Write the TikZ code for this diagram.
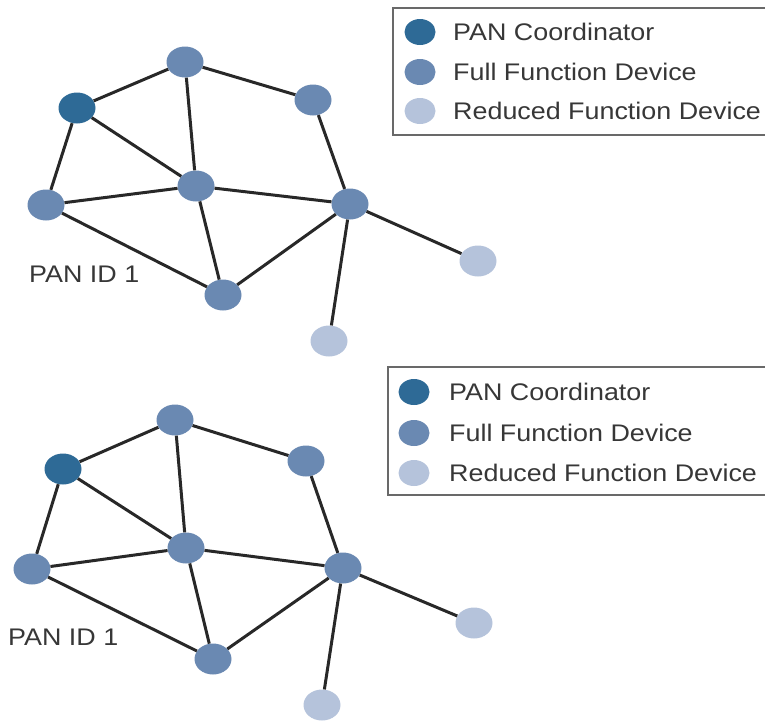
\documentclass[tikz,border=0pt]{standalone}
\usepackage{fontspec}
\setmainfont{Liberation Sans}
\newfontfamily\lblfont[FakeStretch=1.12]{Liberation Sans}
\usetikzlibrary{shapes.geometric}

\definecolor{coordblue}{RGB}{46,106,150}
\definecolor{ffdblue}{RGB}{106,137,178}
\definecolor{rfdblue}{RGB}{181,195,219}
\definecolor{linkgray}{RGB}{40,40,40}
\definecolor{framegray}{RGB}{105,105,105}
\definecolor{textgray}{RGB}{55,55,55}

\tikzset{
  dev/.style={ellipse, draw=none, minimum width=37pt, minimum height=31pt, inner sep=0pt},
  coordnode/.style={dev, fill=coordblue},
  ffd/.style={dev, fill=ffdblue},
  rfd/.style={dev, fill=rfdblue},
  keydot/.style={ellipse, draw=none, minimum width=31pt, minimum height=26pt, inner sep=0pt},
  link/.style={draw=linkgray, line width=3pt},
  keyframe/.style={draw=framegray, line width=1.6pt},
  lbl/.style={font=\lblfont\fontsize{24pt}{28pt}\selectfont, text=textgray, inner sep=0pt}
}

\begin{document}
\begin{tikzpicture}[x=1pt, y=-1pt]
  \useasboundingbox (0,0) rectangle (765,720);
  \clip (0,0) rectangle (765,720);

  % ---------- upper network ----------
  \node[ffd]       (aT) at (185,62)  {};
  \node[coordnode] (aC) at (77,108)  {};
  \node[ffd]       (aR) at (313,100) {};
  \node[ffd]       (aM) at (196,186) {};
  \node[ffd]       (aL) at (46,205)  {};
  \node[ffd]       (aH) at (350,204) {};
  \node[ffd]       (aB) at (223,295) {};
  \node[rfd]       (aD) at (329,341) {};
  \node[rfd]       (aE) at (478,261) {};

  \draw[link] (aC) -- (aT);
  \draw[link] (aT) -- (aR);
  \draw[link] (aC) -- (aL);
  \draw[link] (aC) -- (aM);
  \draw[link] (aT) -- (aM);
  \draw[link] (aL) -- (aM);
  \draw[link] (aM) -- (aH);
  \draw[link] (aR) -- (aH);
  \draw[link] (aL) -- (aB);
  \draw[link] (aM) -- (aB);
  \draw[link] (aB) -- (aH);
  \draw[link] (aH) -- (aE);
  \draw[link] (aH) -- (aD);

  \node[lbl, anchor=base west] (aId) at (29,282) {PAN ID 1};

  % upper key
  \draw[keyframe] (393,8) rectangle (790,135);
  \node[keydot, fill=coordblue] (aK1) at (420,32)  {};
  \node[keydot, fill=ffdblue]   (aK2) at (420,72)  {};
  \node[keydot, fill=rfdblue]   (aK3) at (420,111) {};
  \node[lbl, anchor=base west] (aK1t) at (453,40)  {PAN Coordinator};
  \node[lbl, anchor=base west] (aK2t) at (453,80)  {Full Function Device};
  \node[lbl, anchor=base west] (aK3t) at (453,119) {Reduced Function Device};

  % ---------- lower network ----------
  \node[ffd]       (bT) at (175,420) {};
  \node[coordnode] (bC) at (63,469)  {};
  \node[ffd]       (bR) at (306,461) {};
  \node[ffd]       (bM) at (186,548) {};
  \node[ffd]       (bL) at (32,569)  {};
  \node[ffd]       (bH) at (343,568) {};
  \node[ffd]       (bB) at (213,659) {};
  \node[rfd]       (bD) at (322,705) {};
  \node[rfd]       (bE) at (474,623) {};

  \draw[link] (bC) -- (bT);
  \draw[link] (bT) -- (bR);
  \draw[link] (bC) -- (bL);
  \draw[link] (bC) -- (bM);
  \draw[link] (bT) -- (bM);
  \draw[link] (bL) -- (bM);
  \draw[link] (bM) -- (bH);
  \draw[link] (bR) -- (bH);
  \draw[link] (bL) -- (bB);
  \draw[link] (bM) -- (bB);
  \draw[link] (bB) -- (bH);
  \draw[link] (bH) -- (bE);
  \draw[link] (bH) -- (bD);

  \node[lbl, anchor=base west] (bId) at (8,645) {PAN ID 1};

  % lower key
  \draw[keyframe] (388,367) rectangle (790,495);
  \node[keydot, fill=coordblue] (bK1) at (414,392) {};
  \node[keydot, fill=ffdblue]   (bK2) at (414,433) {};
  \node[keydot, fill=rfdblue]   (bK3) at (414,473) {};
  \node[lbl, anchor=base west] (bK1t) at (449,400) {PAN Coordinator};
  \node[lbl, anchor=base west] (bK2t) at (449,441) {Full Function Device};
  \node[lbl, anchor=base west] (bK3t) at (449,481) {Reduced Function Device};
\end{tikzpicture}
\end{document}
